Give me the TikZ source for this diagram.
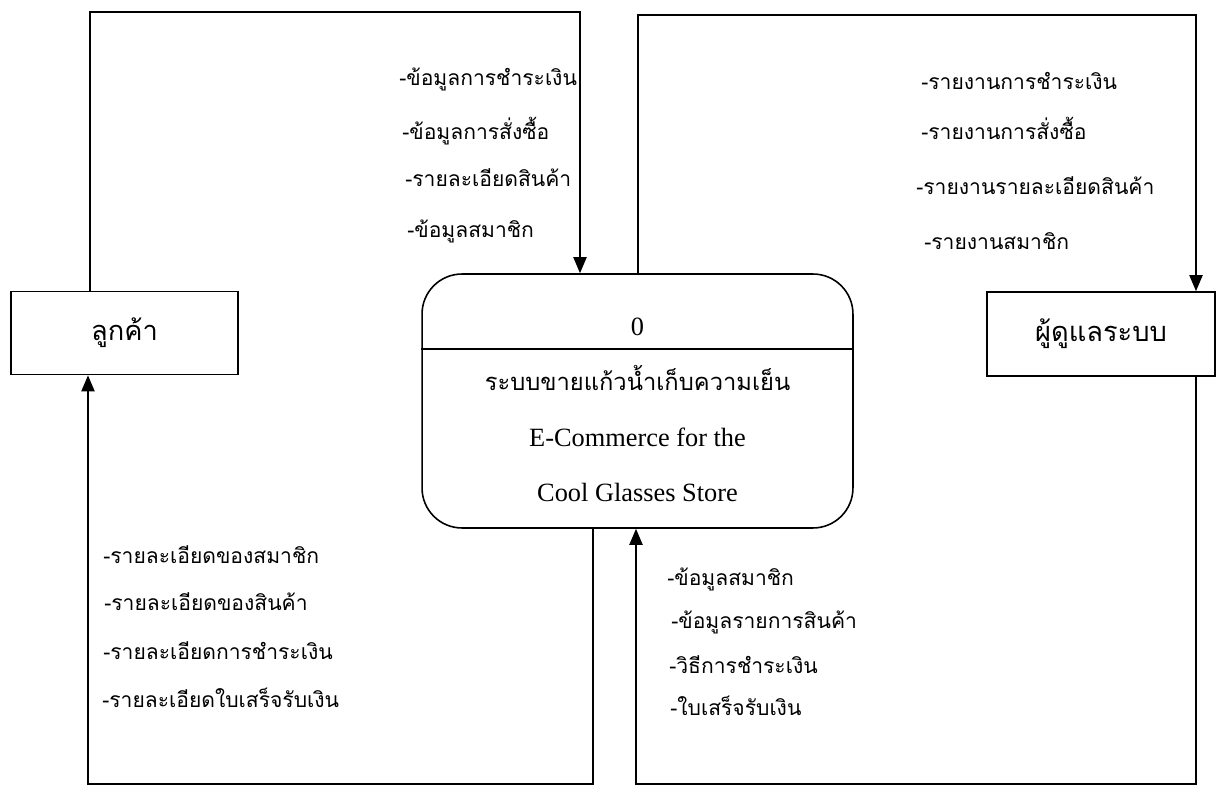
\documentclass[tikz,border=0pt]{standalone}
\usepackage{fontspec}
\setmainfont{Liberation Serif}
\newfontfamily\thaifont[Script=Thai]{Loma}
\usetikzlibrary{arrows.meta,positioning}
\tikzset{
  entitybox/.style={
    draw,
    line width=0.9pt,
    minimum width=4.55cm,
    minimum height=1.66cm,
    font=\thaifont\fontsize{15.5}{18}\selectfont
  },
  processbox/.style={
    draw,
    line width=0.9pt,
    rounded corners=0.8cm,
    minimum width=8.62cm,
    minimum height=5.08cm
  },
  proctext/.style={
    anchor=base,
    inner sep=0pt,
    font=\fontsize{15}{18}\selectfont
  },
  flowlabel/.style={
    anchor=base west,
    inner sep=0pt,
    font=\thaifont\fontsize{12}{14}\selectfont
  },
  flow/.style={
    -{Triangle[length=3.2mm,width=2.6mm]},
    line width=1.1pt
  }
}

\begin{document}
\begin{tikzpicture}[x=0.02cm, y=-0.02cm]
\useasboundingbox (0,0) rectangle (1218,787);
% external entities and the process
\node[entitybox] (cust) at (124.5,333) {ลูกค้า};
\node[entitybox, minimum width=4.56cm, minimum height=1.68cm] (admin) at (1101,334) {ผู้ดูแลระบบ};
\node[processbox] (proc) at (637.5,401) {};
\coordinate (divy) at (0,349);
\draw[line width=0.9pt] (proc.west |- divy) -- (proc.east |- divy);
\node[proctext] (pnum) at (637.5,336) {0};
\node[proctext, font=\thaifont\fontsize{13.5}{16}\selectfont] (pthai) at (637.5,391) {ระบบขายแก้วน้ำเก็บความเย็น};
\node[proctext] (pline2) at (637.5,446) {E-Commerce for the};
\node[proctext] (pline3) at (637.5,501) {Cool Glasses Store};

% data flows
\coordinate (tl1) at (90,12);
\coordinate (tl2) at (580,12);
\draw[flow] (cust.north -| tl1) -- (tl1) -- (tl2) -- (tl2 |- proc.north);
\coordinate (tr1) at (638,15);
\coordinate (tr2) at (1196,15);
\draw[flow] (proc.north -| tr1) -- (tr1) -- (tr2) -- (tr2 |- admin.north);
\coordinate (bl1) at (593,784);
\coordinate (bl2) at (88,784);
\draw[flow] (proc.south -| bl1) -- (bl1) -- (bl2) -- (bl2 |- cust.south);
\coordinate (br1) at (1196,784);
\coordinate (br2) at (636,784);
\draw[flow] (admin.south -| br1) -- (br1) -- (br2) -- (br2 |- proc.south);

% labels: customer -> process
\node[flowlabel] (cp1) at (399,86) {-ข้อมูลการชำระเงิน};
\node[flowlabel] (cp2) at (402,140) {-ข้อมูลการสั่งซื้อ};
\node[flowlabel] (cp3) at (405,187) {-รายละเอียดสินค้า};
\node[flowlabel] (cp4) at (407,238) {-ข้อมูลสมาชิก};
% labels: process -> admin
\node[flowlabel] (pa1) at (921,90) {-รายงานการชำระเงิน};
\node[flowlabel] (pa2) at (921,140) {-รายงานการสั่งซื้อ};
\node[flowlabel] (pa3) at (916,195) {-รายงานรายละเอียดสินค้า};
\node[flowlabel] (pa4) at (924,250) {-รายงานสมาชิก};
% labels: process -> customer
\node[flowlabel] (pc1) at (103,563) {-รายละเอียดของสมาชิก};
\node[flowlabel] (pc2) at (104,610) {-รายละเอียดของสินค้า};
\node[flowlabel] (pc3) at (103,659) {-รายละเอียดการชำระเงิน};
\node[flowlabel] (pc4) at (102,707) {-รายละเอียดใบเสร็จรับเงิน};
% labels: admin -> process
\node[flowlabel] (ap1) at (667,585) {-ข้อมูลสมาชิก};
\node[flowlabel] (ap2) at (671,628) {-ข้อมูลรายการสินค้า};
\node[flowlabel] (ap3) at (669,673) {-วิธีการชำระเงิน};
\node[flowlabel] (ap4) at (670,715) {-ใบเสร็จรับเงิน};
\end{tikzpicture}
\end{document}
